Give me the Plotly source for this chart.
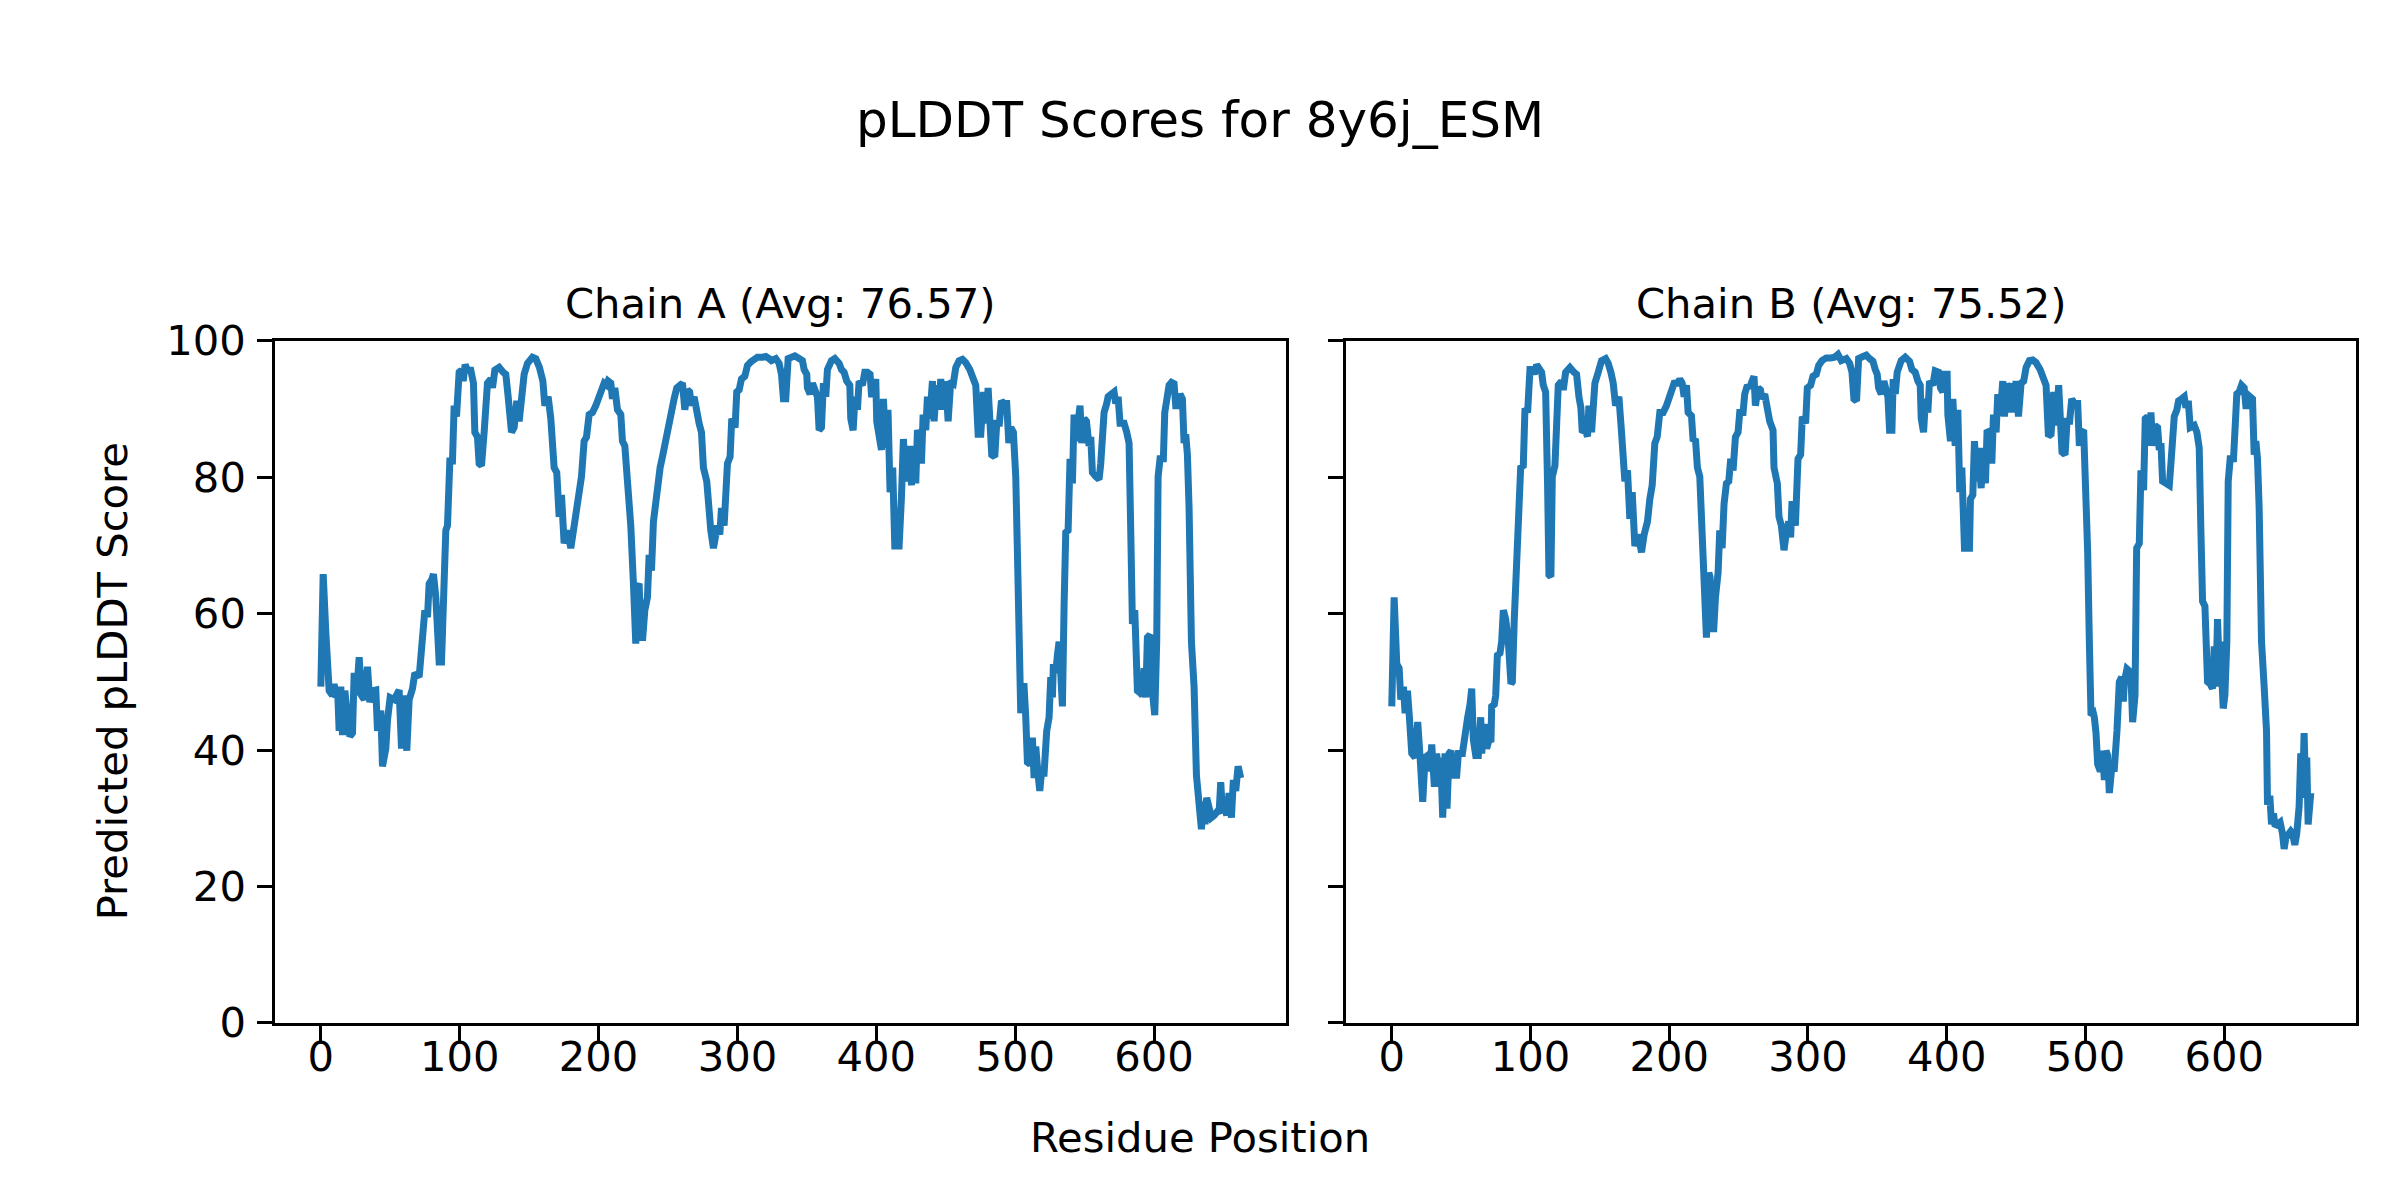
import plotly.graph_objects as go

# ---------------- data ----------------
chart_title = "pLDDT Scores for 8y6j_ESM"
chain_titles = ["Chain A (Avg: 76.57)", "Chain B (Avg: 75.52)"]
x_label = "Residue Position"
y_label = "Predicted pLDDT Score"
x_ticks = [0, 100, 200, 300, 400, 500, 600]
y_ticks = [0, 20, 40, 60, 80, 100]

chain_a_res = [
    0, 1.7, 3.6, 6, 8.4, 9.6, 10.8, 12, 13.2, 14.4, 15.6, 17.3, 19.2, 20.9, 22.8, 24, 25.7, 27.6, 29.3, 31.2,
    33.6, 35.3, 37.2, 39.6, 40.8, 43.2, 44.4, 46.8, 48, 49.9, 52.8, 54, 56.4, 58.1, 60, 61.9, 63.6, 66, 67.7, 70.8,
    72, 73.9, 74.9, 76.8, 78, 79.9, 81.1, 82.8, 85.2, 86.9, 88.3, 90, 91.2, 92.9, 94.8, 96, 97.7, 99.6, 101.3, 102.5,
    103.9, 105.6, 108, 109.9, 110.9, 112.8, 114, 115.7, 117.6, 120, 122.4, 123.6, 125.3, 128.4, 131.3, 133.2, 134.9, 136.1, 137.3, 139.2,
    141.1, 142.8, 144.5,
    146.4, 148.8, 152.4, 154.8, 157.4, 159.9, 161.3, 163.7, 165.6, 168, 169.9, 171.6, 173.3, 175.2, 177.6, 180, 181.9, 184.3, 186, 187.7,
    189.6, 191.3, 193.2, 195.6, 198, 199.7, 201.6, 204, 205.9, 206.9, 208.8, 210, 211.7, 213.6, 216, 217.2, 218.9, 220.3, 222, 223.2,
    225.1, 226.8, 228, 229.2, 230.4, 231.8, 233.3, 235.2, 236.4, 238.1, 239.5, 241.2, 242.9, 244.3, 246, 247.7, 249.6, 250.8, 252.5, 254.4,
    256.3, 258, 260.4, 262.1, 264, 265.6, 266.9, 268.8, 270.7, 272.4, 274.1, 275.5, 277.9, 279.1, 280.8, 282.7, 284.4, 285.6, 287.3, 288.5,
    290.4, 291.6, 292.8, 294.7, 295.9, 298.3, 299.5, 301.2, 302.9, 305.3, 307.2, 309.6, 312, 314.4, 318, 320.4, 322.8, 324.5,
    327.6, 330, 331.7, 333.1, 334.8, 336.5, 338.9, 341.3, 344.4, 346.8, 348, 349.9, 350.4, 352.3, 354, 355.7, 357.6, 358.8, 360.5, 361.9,
    363.6, 364.8, 367.7, 370.1, 373.2, 374.9, 376.8, 378.7, 380.9, 381.6, 383.3, 384.7, 386.4, 387.6, 390, 391.7, 393.6, 395.5, 396.5, 397.9,
    399.6, 400.3, 402, 403.7, 405.1, 406.8, 408.4, 409.9, 411.8, 413.3, 416.4, 417.1, 418.1, 419.5, 421.2, 422.4, 424.3, 425.3, 426.7, 428.4,
    429.6, 431.3, 432.5, 433.7, 435.6, 436.8, 438.5, 440.4, 441.6, 443.3, 445.2, 446.4, 448.3, 450, 451.7, 453.6, 455.5, 457.2, 459.6, 462,
    464.4, 467.3, 469.2, 471.6, 473.3, 475.2, 477.1, 478.8, 480.5, 481.9, 483.1, 485.3, 486.7, 488.6, 490.1, 492, 493.9, 495.4, 496.8, 498.7,
    500.4, 501.6, 502.8, 504, 505.2,
    506.4, 507.6, 508.8, 510.7, 512.4, 513.6, 514.8, 516.5, 517.7, 518.9, 520.8, 522.7, 524.4, 525.6, 526.8, 527.5, 529.2, 530.4, 531.6, 532.8,
    534, 535.2, 536.4, 538.1, 539.5, 541.2, 542.4, 543.6, 545.3, 546.7, 547.9, 549.6, 551.3, 553.2, 554.4, 555.6, 558, 560.4, 561.6, 562.8,
    564, 565.9, 566.9, 569.3, 571.2, 572.4, 574.1, 575.5, 578.4, 580.3, 582, 583.2, 584.4, 586.1, 586.8, 588, 589.9, 591.6, 592.8, 594,
    595.2, 597.1, 598.1, 599.5, 600.5, 601.9, 602.9, 604.3, 606.7, 607.7, 609.1, 610.8, 612.5, 614.4, 615.6, 617.3, 618.7, 620.4, 621.6, 622.8,
    624, 625.2, 626.9, 628.8, 630.5, 631.7, 632.9, 634.1, 635.5, 636.7, 637.9, 639.6, 641.3, 643.2, 645.6, 646.8, 648, 649.2, 650.9, 652.3,
    654, 655.7, 657.1, 658.8, 660.5, 662.4,
]
chain_a_score = [
    49.3, 65.8, 57.2, 48.7, 48, 49.7, 47.7, 49.3, 42.8, 49.3, 42.2, 48.7, 44.8, 42, 42.5, 51.3, 48, 53.6, 48, 47.4,
    52.2, 47, 48.7, 48.8, 42.8, 45.8, 37.6, 40.2, 44.4, 47.7, 47.4, 48, 48.8, 40.2, 48, 39.9, 47.4, 49, 51.3, 50.7,
    53.6, 55.6, 60.5, 59.5, 64.4, 65, 65.8, 62.4, 52.9, 52.9, 62.4, 72.2, 72.9, 82.4, 82.4, 90.5, 88.9, 95.4, 95.7, 94.1,
    96.5, 95.7, 95.7, 93.8, 86.6, 85.9, 82, 81.7, 86.6, 93.8, 94.4, 93.1, 95.7, 96.1, 95.4, 95.1, 91.8, 89.9, 86.6, 87.3,
    91.2, 88.2, 91.2,
    95.1, 96.7, 97.6, 97.4, 96.1, 94.1, 90.5, 91.8, 88.6, 81.4, 80.7, 74.2, 77.4, 70.3, 72.2, 69.6, 72.2, 74.8, 77.4, 80.1,
    85.3, 85.9, 89.2, 89.5, 90.5, 91.5, 92.5, 93.8, 93.5, 94.1, 93.8, 91.5, 93.1, 89.9, 89.2, 85.3, 84.6, 81.4, 78.1, 72.9,
    64.4, 55.6, 63.9, 64.4, 56.5, 56.5, 60.5, 62.4, 68.6, 66.3, 73.5, 77.1, 78.1, 81.4, 83, 85, 86.9, 88.6, 89.2, 91.5,
    93.1, 93.5, 93.8, 89.9, 92.8, 92.5, 90.5, 91.8, 89.2, 87.9, 86.6, 81.4, 79.4, 74.8, 72.2, 69.6, 71.6, 72.9, 71.6, 75.5,
    72.9, 76.8, 82, 83, 88.6, 87.3, 92.5, 92.8, 94.4, 94.8, 96.4, 96.9, 97.4, 97.6, 97.6, 97.7, 97.4, 97.1,
    97.4, 96.7, 95.1, 91.5, 91.5, 97.4, 97.6, 97.8, 97.4, 97.1, 95.8, 95.1, 93.1, 92.2, 93.8, 93.1, 91.8, 86.9, 87.3, 93.8,
    91.8, 95.8, 97.1, 97.4, 96.7, 95.8, 95.4, 94.1, 93.5, 88.6, 86.9, 91.8, 89.9, 94.1, 93.5, 95.4, 95.4, 95.1, 92.2, 92.2,
    94.4, 88.2, 85, 84, 91.5, 84.3, 89.9, 77.8, 81.4, 69.9, 69.9, 76.8, 77.1, 85.6, 79.4, 81.4, 84.6, 78.8, 84.6, 79.1,
    86.9, 85.9, 82, 89.2, 86.9, 91.8, 88.6, 94.1, 88.2, 93.5, 89.9, 94.4, 89.9, 94.1, 88.2, 94.1, 93.8, 96.1, 97.1, 97.3,
    96.8, 95.8, 94.4, 93.5, 86.3, 86.3, 92.5, 87.9, 93.1, 86.3, 83.3, 83, 87.9, 87.9, 91.2, 90.8, 90.8, 85, 87.3, 86.6,
    80.1, 69, 55.9, 45.4, 49.3,
    49.3, 44.8, 38.2, 37.9, 41.8, 35.9, 40.5, 36.3, 34, 36.6, 36.6, 42.8, 44.8, 50.7, 47.7, 52.6, 51.3, 53.9, 55.9, 51.3,
    46.4, 61.1, 71.9, 72.2, 82.7, 79.1, 89.2, 85.3, 89.9, 90.5, 85, 88.6, 88.2, 84.6, 85.9, 80.7, 80.1, 79.7, 82, 85.9,
    89.5, 90.8, 91.8, 92.2, 92.5, 90.8, 91.8, 87.9, 87.9, 86.6, 85, 72.2, 58.5, 60.5, 52.9, 48.7, 48.4, 48, 52, 47.7,
    56.5, 56.9, 50, 46.7, 45.1, 55.9, 80.1, 82.7, 82.7, 89.5, 92.2, 93.5, 93.9, 93.7, 90.5, 90.5, 92.2, 91.5, 85, 86.3,
    83.3, 75.5, 55.9, 49.3, 36.3, 33.7, 29.1, 28.4, 32.4, 29.1, 33, 31.7, 30.1, 30.4, 31, 30.7, 35.3, 31, 31.7, 30.4,
    33.7, 30.1, 35.6, 34, 37.6, 35.9,
]

chain_b_res = [
    0, 1.7, 3.6, 5.3, 6.5, 8.4, 9.6, 11.3, 12.7, 14.4, 16.8, 18.7, 20.4, 22.3, 24, 25.9, 27.6, 28.8, 30.7, 32.4,
    34.1, 35.3, 36.7, 38.4, 39.8, 41.3, 42.7, 44.4, 46.8, 48, 50.9, 52.8, 54.7, 56.4, 57.6, 58.8, 60.5, 62.4, 64.1, 64.8,
    66.7, 68.4, 70.1, 71.5, 72, 73.9, 74.9, 76.1, 78, 79.2, 80.4, 82.1, 84, 85.9, 86.9, 88.3, 90, 91.2, 92.9, 94.8,
    96, 97.9, 99.6, 101.3, 102.7, 104.4, 106.1, 108, 109.2, 110.9, 112.3, 113.3, 114.7, 115.7, 117.6, 120, 122.4, 123.6, 125.3, 128.4,
    131.3, 133.2, 134.9, 136.3, 137.3, 139.2, 141.1, 142.1, 144,
    146.4, 148.8, 151.2, 154.1, 156, 157.9, 159.6, 161.3, 163.7, 165.6, 168, 169.9, 171.6, 173.3, 175.2, 177.6, 180, 181.9, 184.3, 186,
    187.7, 189.6, 191.3, 193.2, 195.6, 198, 199.7, 202.1, 204, 205.9, 207.6, 209.3, 210.7, 212.4, 213.6, 216, 217.2, 218.9, 220.3, 222,
    223.7, 225.1, 226.8, 228.5, 229.4, 230.4, 232.1, 233.3, 235.2, 236.4, 238.1, 239.5, 241.2, 242.9, 244.3, 246, 247.7, 249.6, 250.8, 253.2,
    254.4, 256.3, 258, 259.7, 261.1, 262.1, 264, 265.7, 266.9, 268.8, 270.7, 272.4, 274.8, 275.5, 277.9, 279.1, 280.8, 282.7, 284.4, 286.1,
    287.5, 288.5, 290.9, 291.8, 292.8, 294.7, 295.9, 298.3, 299.5, 301.9, 303.6, 306, 307.7, 310.1, 313.2, 316.3, 319.2, 321.6, 324,
    327.6, 330, 331.7, 333.1, 335, 336.5, 339.6, 342, 344.4, 346.8, 348.5, 349.9, 350.9, 352.8, 354.7, 356.4, 357.6, 358.8, 360.5, 361.4,
    362.9, 364.3, 367.2, 370.1, 373.2, 374.9, 377.3, 379.2, 380.9, 381.6, 383.3, 384.7, 386.4, 387.6, 390, 391.7, 394.1, 395.5, 397.2, 398.4,
    400.3, 400.8, 402.7, 404.4, 406.1, 408, 409.4, 410.9, 412.8, 416.4, 417.1, 418.8, 420, 421.7, 422.9, 424.8, 426.5, 427.9, 429.1, 430.8,
    432.5, 433.7, 435.6, 436.8, 438.5, 440.4, 441.6, 443.3, 445.2, 446.9, 448.3, 450, 451.7, 453.6, 455.5, 457.2, 459.6, 462, 464.4, 467.3,
    469.2, 471.6, 473.3, 475.2, 477.1, 478.8, 480.7, 481.9, 483.1, 485.3, 486.7, 488.6, 490.1, 492, 494.4, 495.6, 496.8, 498.7, 500.4, 501.6,
    502.8, 504, 505.7,
    506.4, 507.6, 508.8, 510.7, 512.4, 513.6, 514.8, 516, 517.2, 518.9, 520.8, 522.7, 524.4, 526.1, 527.3, 528, 529.9, 531.6, 532.8, 534,
    535.7, 536.9, 538.8, 540, 541.9, 543.1, 544.8, 546, 547.2, 548.4, 550.1, 552, 553.2, 554.4, 555.6, 558, 560.4, 561.6, 562.8, 564,
    565.9, 567.1, 569.3, 571.2, 572.4, 574.1, 575.5, 578.4, 580.3, 582, 583.2, 584.4, 586.1, 586.8, 588, 589.9, 591.6, 592.8, 594, 595.2,
    596.4, 597.1, 598.3, 599.3, 600.5, 601.9, 602.9, 604.3, 606.7, 607.7, 609.1, 610.8, 612.5, 614.4, 615.6, 617.3, 618.7, 620.4, 621.6, 622.8,
    624, 625.2, 626.9, 628.8, 630.5, 631.2, 632.9, 634.1, 635.5, 636.7, 638.4, 640.3, 642, 643.2, 644.4, 646.1, 648, 649.2, 650.9, 652.3,
    654, 655.2, 656.4, 657.6, 658.8, 659.5, 660.5, 662.4,
]
chain_b_score = [
    46.4, 62.4, 52.6, 52, 47.4, 49.3, 45.4, 48.7, 44.8, 39.5, 38.9, 44.1, 38.9, 32.4, 38.9, 39.2, 36.9, 40.8, 34.6, 39.5,
    34.6, 38.9, 30.1, 39.5, 31.4, 39.5, 39.9, 36.3, 36.3, 39.5, 39.5, 42.8, 44.8, 46.7, 49, 41.5, 39.2, 39.2, 44.8, 39.5,
    43.8, 40.2, 41.5, 41.2, 46.4, 46.7, 48, 53.9, 54.2, 55.9, 60.5, 59.2, 55.9, 49.7, 50, 59.2, 69.6, 70.6, 81.4, 81.7,
    90.1, 89.5, 95.8, 95.8, 95.1, 96.5, 95.8, 95.4, 93.5, 92.5, 78.8, 65.7, 65.4, 80.1, 81.7, 93.5, 94.1, 92.8, 95.4, 96.1,
    95.4, 95.1, 91.8, 90.2, 86.6, 86.9, 86, 90.5, 86.6,
    93.8, 95.4, 97.1, 97.4, 96.7, 95.4, 93.8, 90.5, 91.8, 86.6, 79.4, 81, 73.9, 77.8, 69.9, 71.6, 69, 71.6, 73.5, 76.8,
    78.8, 85, 85.9, 89.5, 89.5, 90.5, 91.8, 93.1, 94.1, 93.5, 94.4, 93.8, 91.8, 93.5, 89.5, 89, 85.3, 85.6, 81.4, 80.1,
    72.9, 66, 56.5, 66, 65.4, 57.8, 57.8, 62.4, 66, 72.2, 69.6, 76.1, 79.1, 79.4, 82.7, 81, 85.9, 86.6, 89.5, 89.5,
    92.2, 93.5, 93.1, 94.1, 94.8, 90.5, 93.1, 92.8, 91.5, 92.2, 89.9, 88.2, 86.9, 81.4, 79.1, 74.2, 72.9, 69.3, 71.9, 73.5,
    71.2, 76.5, 72.9, 76.8, 82.7, 83.3, 88.9, 87.9, 93.1, 93.5, 94.8, 95.1, 96.4, 97.1, 97.5, 97.5, 97.6, 98, 97.1,
    97.4, 96.7, 95.4, 91.5, 91.2, 97.4, 97.7, 97.9, 97.4, 97, 95.8, 95.1, 93.1, 92.2, 94.1, 93.1, 91.8, 86.9, 86.9, 94.4,
    92.2, 95.4, 97.1, 97.6, 97, 95.8, 95.4, 94.1, 93.5, 88.6, 86.6, 91.5, 89.5, 94.1, 93.5, 95.6, 95.4, 93.1, 92.5, 95.1,
    95.1, 89.2, 85.3, 91.5, 84.6, 89.9, 77.8, 81.4, 69.6, 69.6, 76.8, 77.4, 85.3, 79.4, 84.3, 78.4, 84.3, 79.1, 86.9, 86.6,
    82, 89.2, 86.6, 92.2, 89, 94.1, 88.9, 93.8, 89.5, 93.8, 89.5, 94.1, 88.9, 93.8, 94.1, 96.1, 97.1, 97.2, 96.8, 95.8,
    94.8, 93.5, 86, 86.3, 92.5, 87.6, 93.5, 86.9, 83.7, 83.3, 88.2, 88.2, 91.5, 90.8, 90.8, 84.6, 86.6, 86.9, 79.4, 69,
    55.9, 45.1, 45.4,
    44.8, 42.5, 37.9, 36.9, 39.9, 35.6, 39.9, 39.2, 33.7, 37.3, 37.3, 42.8, 50, 50.7, 47.1, 50, 51.9, 51.6, 50.7, 44.1,
    48, 69.6, 70.3, 81, 78.1, 88.6, 88.9, 84.6, 89.5, 84.6, 87.6, 87.3, 84, 85, 79.4, 79.1, 78.8, 82, 85.9, 88.9,
    89.9, 91.2, 91.5, 91.8, 90.2, 91.2, 87.3, 87.6, 86.6, 84.3, 72.2, 61.8, 61.1, 53.3, 50, 49.7, 49, 55.2, 49.3, 59.2,
    52, 55.9, 47.7, 46.1, 48, 55.9, 79.4, 82.7, 82.7, 88.6, 92.2, 92.5, 93.5, 93.1, 90.5, 90.5, 91.8, 91.5, 83.3, 85.3,
    82.7, 75.5, 55.9, 49.3, 42.8, 32, 33.3, 29.1, 30.7, 28.8, 29.1, 29.4, 27.8, 25.5, 27.1, 27.5, 28.1, 27.8, 26.1, 27.8,
    31.7, 39.5, 33, 42.5, 33, 38.9, 29.1, 33.7,
]

# ---------------- figure ----------------
W, H = 2400, 1200
FONT = "DejaVu Sans"
LINE_COLOR = "#1f77b4"

fig = go.Figure()
fig.add_trace(go.Scatter(x=chain_a_res, y=chain_a_score, mode="lines",
                         line=dict(color=LINE_COLOR, width=7),
                         xaxis="x", yaxis="y", showlegend=False, hoverinfo="x+y"))
fig.add_trace(go.Scatter(x=chain_b_res, y=chain_b_score, mode="lines",
                         line=dict(color=LINE_COLOR, width=7),
                         xaxis="x2", yaxis="y2", showlegend=False, hoverinfo="x+y"))

common = dict(showline=True, linecolor="black", linewidth=3.3, mirror=True,
              ticks="outside", ticklen=14.6, tickwidth=3.3, tickcolor="black",
              showgrid=False, zeroline=False,
              tickfont=dict(family=FONT, size=41.7, color="black"))

ydom = [1 - 1033 / H, 1 - 322 / H]
xdomA = [267 / W, 1278 / W]
xdomB = [1338 / W, 2348 / W]

fig.update_layout(
    width=W, height=H,
    margin=dict(l=0, r=0, t=0, b=0),
    paper_bgcolor="white", plot_bgcolor="white",
    font=dict(family=FONT, color="black"),
    xaxis=dict(domain=xdomA, range=[-33, 695], tickvals=x_ticks, anchor="y",
               ticklabelstandoff=-20, **common),
    yaxis=dict(domain=ydom, range=[0, 100], tickvals=y_ticks, anchor="x",
               ticklabelstandoff=3, **common),
    xaxis2=dict(domain=xdomB, range=[-33, 695], tickvals=x_ticks, anchor="y2",
                ticklabelstandoff=-20, **common),
    yaxis2=dict(domain=ydom, range=[0, 100], tickvals=y_ticks, anchor="x2",
                showticklabels=False, **common),
)

annos = [
    dict(text=chart_title, x=1192 / W, y=1 - 92 / H, font=dict(size=50)),
    dict(text=chain_titles[0], x=(xdomA[0] + xdomA[1]) / 2, y=1 - 283 / H, font=dict(size=41.7)),
    dict(text=chain_titles[1], x=(xdomB[0] + xdomB[1]) / 2, y=1 - 283 / H, font=dict(size=41.7)),
    dict(text=x_label, x=1192 / W, y=1 - 1153 / H, font=dict(size=41.7)),
    dict(text=y_label, x=104 / W, y=1 - 677 / H, font=dict(size=41.7), textangle=-90),
]
for a in annos:
    fig.add_annotation(xref="paper", yref="paper", xanchor="center", yanchor="middle",
                       showarrow=False, font_family=FONT, font_color="black", **a)

fig.write_html("out.html")
